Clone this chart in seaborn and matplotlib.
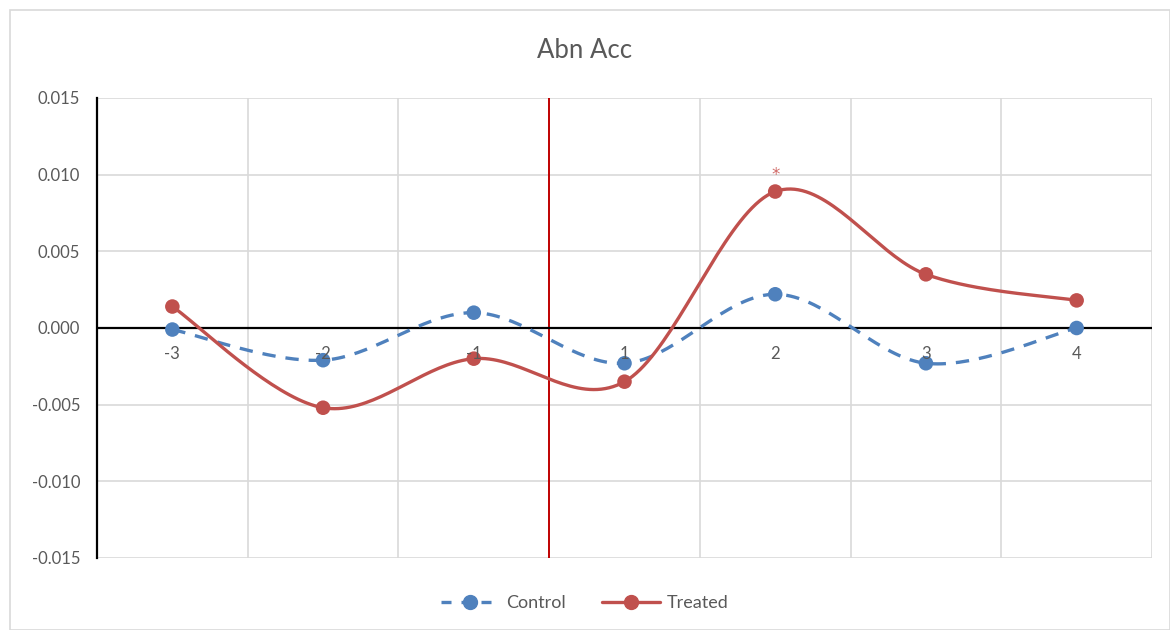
import numpy as np
import pandas as pd
import seaborn as sns
import matplotlib.pyplot as plt
from matplotlib.lines import Line2D

sns.set_theme(style="white")
plt.rcParams['font.family'] = ['Lato', 'DejaVu Sans']

categories = ["-3", "-2", "-1", "1", "2", "3", "4"]
control = [-0.0001, -0.0021, 0.0010, -0.0023, 0.0022, -0.0023, 0.0000]
treated = [0.0014, -0.0052, -0.0020, -0.0035, 0.0089, 0.0035, 0.0018]
star_cat = "2"

blue = "#4F81BD"
red = "#C0504D"
grey_txt = "#595959"


def smooth(y, n=40):
    # catmull-rom style smoothing like excel's "smoothed line"
    y = np.asarray(y, dtype=float)
    x = np.arange(len(y), dtype=float)
    pts = np.column_stack([x, y])
    out = []
    for i in range(len(pts) - 1):
        p0 = pts[max(i - 1, 0)]
        p1 = pts[i]
        p2 = pts[i + 1]
        p3 = pts[min(i + 2, len(pts) - 1)]
        c1 = p1 + (p2 - p0) / 6
        c2 = p2 - (p3 - p1) / 6
        t = np.linspace(0, 1, n)[:, None]
        seg = ((1 - t) ** 3) * p1 + 3 * ((1 - t) ** 2) * t * c1 + 3 * (1 - t) * t ** 2 * c2 + t ** 3 * p2
        out.append(seg if i == 0 else seg[1:])
    return np.vstack(out)


pos = np.arange(len(categories))
pts = pd.DataFrame({"x": np.concatenate([pos, pos]),
                    "y": control + treated,
                    "group": ["Control"] * len(pos) + ["Treated"] * len(pos)})

fig = plt.figure(figsize=(11.7, 6.3), dpi=100)
ax = fig.add_axes([97 / 1170, 1 - 558 / 630, (1152 - 97) / 1170, (558 - 98) / 630])

# outer chart border
fig.patches.append(plt.Rectangle((10 / 1170, 0), 1 - 10 / 1170, 1 - 10 / 630, transform=fig.transFigure,
                                 fill=False, edgecolor="#d9d9d9", linewidth=1.2))

# grid
for yv in np.arange(-0.015, 0.0151, 0.005):
    ax.axhline(yv, color="#d9d9d9", lw=1.2, zorder=0)
for xv in np.arange(-0.5, len(categories) + 0.5, 1):
    ax.axvline(xv, color="#d9d9d9", lw=1.2, zorder=0)
ax.axvline(2.5, color="#C00000", lw=1.4, zorder=1)
ax.axhline(0, color="black", lw=1.6, zorder=2)

sc = smooth(control)
st = smooth(treated)
sns.lineplot(x=sc[:, 0], y=sc[:, 1], ax=ax, color=blue, lw=2.4, sort=False, zorder=3)
ax.lines[-1].set_dashes([4, 3])
sns.lineplot(x=st[:, 0], y=st[:, 1], ax=ax, color=red, lw=2.4, sort=False, zorder=4)
sns.scatterplot(data=pts, x="x", y="y", hue="group", palette={"Control": blue, "Treated": red},
                s=110, edgecolor="none", ax=ax, zorder=5, legend=False)

# x labels just under the zero line
for p, c in zip(pos, categories):
    ax.text(p, -0.0012, c, ha="center", va="top", fontsize=12, color=grey_txt, zorder=6)

si = categories.index(star_cat)
ax.text(si, treated[si] + 0.0011, "*", ha="center", va="center", fontsize=12,
        color="#D06A67", family="DejaVu Sans")

ax.set_xlim(-0.5, len(categories) - 0.5)
ax.set_ylim(-0.015, 0.015)
ax.set_xticks([])
ax.set_yticks(np.arange(-0.015, 0.0151, 0.005))
ax.set_yticklabels([f"{v:.3f}" for v in np.arange(-0.015, 0.0151, 0.005)], fontsize=12, color=grey_txt)
ax.tick_params(axis="y", length=0, pad=12)
ax.set_xlabel("")
ax.set_ylabel("")
for s in ["top", "right", "bottom"]:
    ax.spines[s].set_visible(False)
ax.spines["left"].set_color("black")
ax.spines["left"].set_linewidth(1.6)

fig.text(0.5, 1 - 50 / 630, "Abn Acc", ha="center", va="center", fontsize=18.5, color=grey_txt)

handles = [Line2D([], [], color=blue, lw=2.4, dashes=[3, 3], marker="o", markersize=10),
           Line2D([], [], color=red, lw=2.4, marker="o", markersize=10)]
fig.legend(handles, ["Control", "Treated"], loc="center", bbox_to_anchor=(0.5, 1 - 603 / 630),
           ncol=2, frameon=False, fontsize=13, handlelength=3.2, columnspacing=2,
           labelcolor=grey_txt, handletextpad=0.4)

fig.savefig("out.png", dpi=100)
